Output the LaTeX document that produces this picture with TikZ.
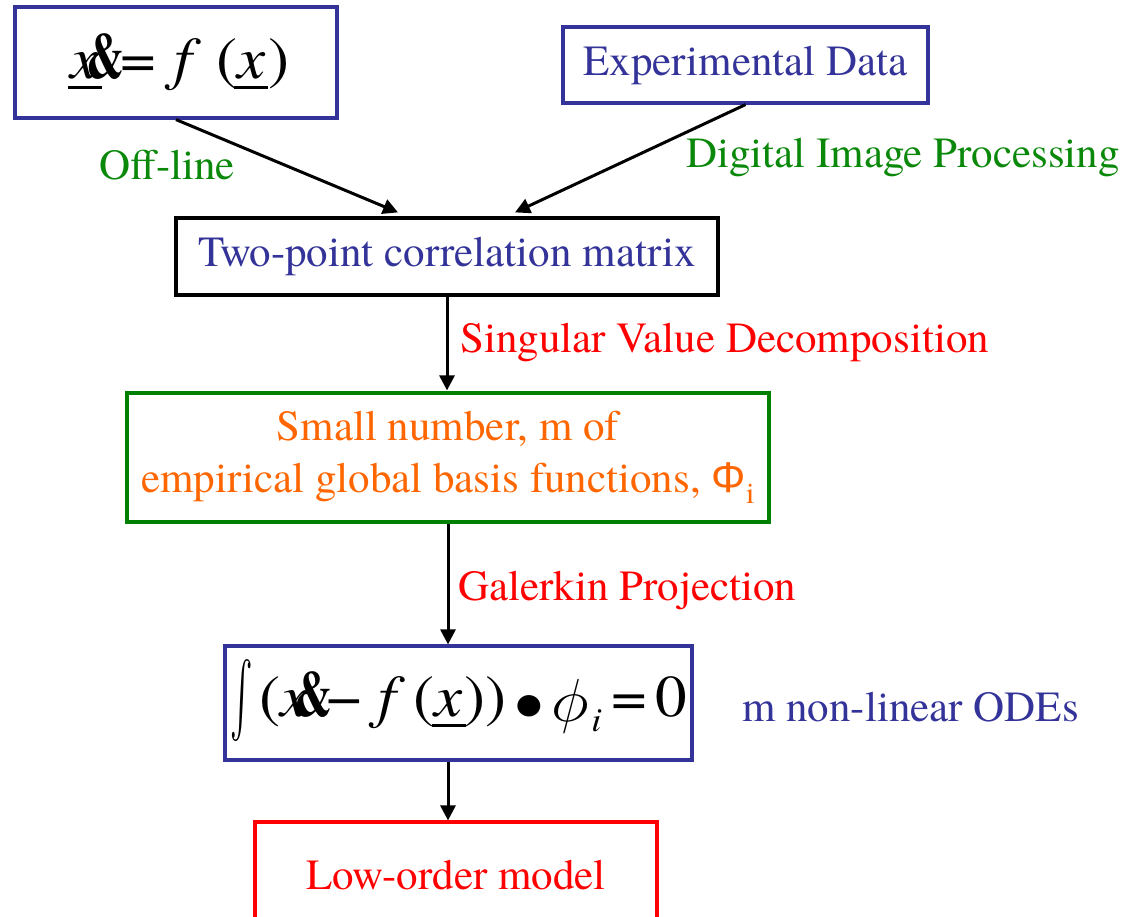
\documentclass[tikz,border=0pt]{standalone}
\usepackage{fontspec}
\setmainfont{texgyretermes}[Extension=.otf, UprightFont=*-regular,
  ItalicFont=*-italic, BoldFont=*-bold, BoldItalicFont=*-bolditalic]
\newfontfamily\arialfont{Liberation Sans}
\newfontfamily\dotfont{DejaVu Sans}
\usepackage{graphicx}
\usetikzlibrary{arrows.meta}
\definecolor{pblue}{HTML}{333399}
\definecolor{pgreen}{HTML}{008000}
\definecolor{lgreen}{HTML}{0A880A}
\definecolor{porange}{HTML}{FF6600}
\definecolor{pred}{HTML}{FF0000}
% underlined italic x and the overprinted ampersand of the equations
\newcommand\barx{\rlap{\kern-3pt\rule[-10pt]{32pt}{3pt}}\textit{x}}
\newcommand\amp{\scalebox{0.72}[1.1]{\textbf{\&}}}
\newcommand\wide[1]{\scalebox{1.07}[1]{#1}}
\tikzset{
  box/.style={draw, line width=3.2pt, inner sep=0pt, align=center,
    font=\fontsize{43}{52}\selectfont},
  eqfont/.style={font=\fontsize{59}{60}\selectfont},
  arr/.style={-{Triangle[length=15pt,width=15pt]}, line width=3pt, black},
  lbl/.style={font=\fontsize{43}{50}\selectfont, inner sep=0pt}
}
\begin{document}
\begin{tikzpicture}[x=1pt, y=-1pt]
\useasboundingbox (0,0) rectangle (1124,917);

% boxes
\node[box, eqfont, draw=pblue, minimum width=322pt, minimum height=111pt] (ode) at (176,62.5)
  {\wide{\kern8pt\barx\kern-12pt\amp\kern-3pt=\kern17pt\textit{f}\kern14pt(\barx\kern3pt)}};
\node[box, draw=pblue, text=pblue, minimum width=365pt, minimum height=76pt] (exp) at (745.5,65)
  {Experimental Data};
\node[box, draw=black, text=pblue, minimum width=542pt, minimum height=77pt] (tp) at (447,256.5)
  {Two-point correlation matrix};
\node[box, draw=pgreen, text=porange, minimum width=642pt, minimum height=129pt] (basis) at (448,457.5)
  {Small number, m of\\empirical global basis functions, {\arialfont Φ}\textsubscript{i}};
\node[box, eqfont, draw=pblue, minimum width=467pt, minimum height=114pt] (gal) at (458.5,703)
  {\wide{\raisebox{-30pt}{\resizebox*{21pt}{87pt}{\raisebox{\depth}{$\int$}}}\kern6pt(\textit{x}\kern-13pt\amp\kern-5pt−\kern15pt\textit{f}\kern8pt(\barx\kern1pt))\kern9pt\raisebox{3pt}{\dotfont\fontsize{28}{28}\selectfont ●}\kern9pt\raisebox{-17pt}{\resizebox*{35pt}{54pt}{\raisebox{\depth}{$\phi$}}}\kern2pt\raisebox{-15pt}{\fontsize{34}{34}\selectfont\itshape i}\kern9pt=\kern8pt0}};
\node[box, draw=pred, text=pred, minimum width=402pt, minimum height=106pt] (low) at (456,875)
  {Low-order model};

% labels
\node[lbl, text=lgreen] (offl) at (167,165) {Off-line};
\node[lbl, text=lgreen] (dip) at (903,158) {Digital Image Processing};
\node[lbl, text=pred, anchor=west] (svd) at (460,343) {Singular Value Decomposition};
\node[lbl, text=pred, anchor=west] (gp) at (458,590) {Galerkin Projection};
\node[lbl, text=pblue, anchor=west] (odes) at (742,707) {m non-linear ODEs};

% connectors
\draw[arr] (ode.south) -- ([xshift=-49pt,yshift=4pt]tp.north);
\draw[arr] (exp.south) -- ([xshift=68pt,yshift=4pt]tp.north);
\draw[arr] (tp.south) -- ([yshift=1pt]tp.south |- basis.north);
\draw[arr] (basis.south) -- (basis.south |- gal.north);
\draw[arr] (basis.south |- gal.south) -- (basis.south |- low.north);
\end{tikzpicture}
\end{document}
